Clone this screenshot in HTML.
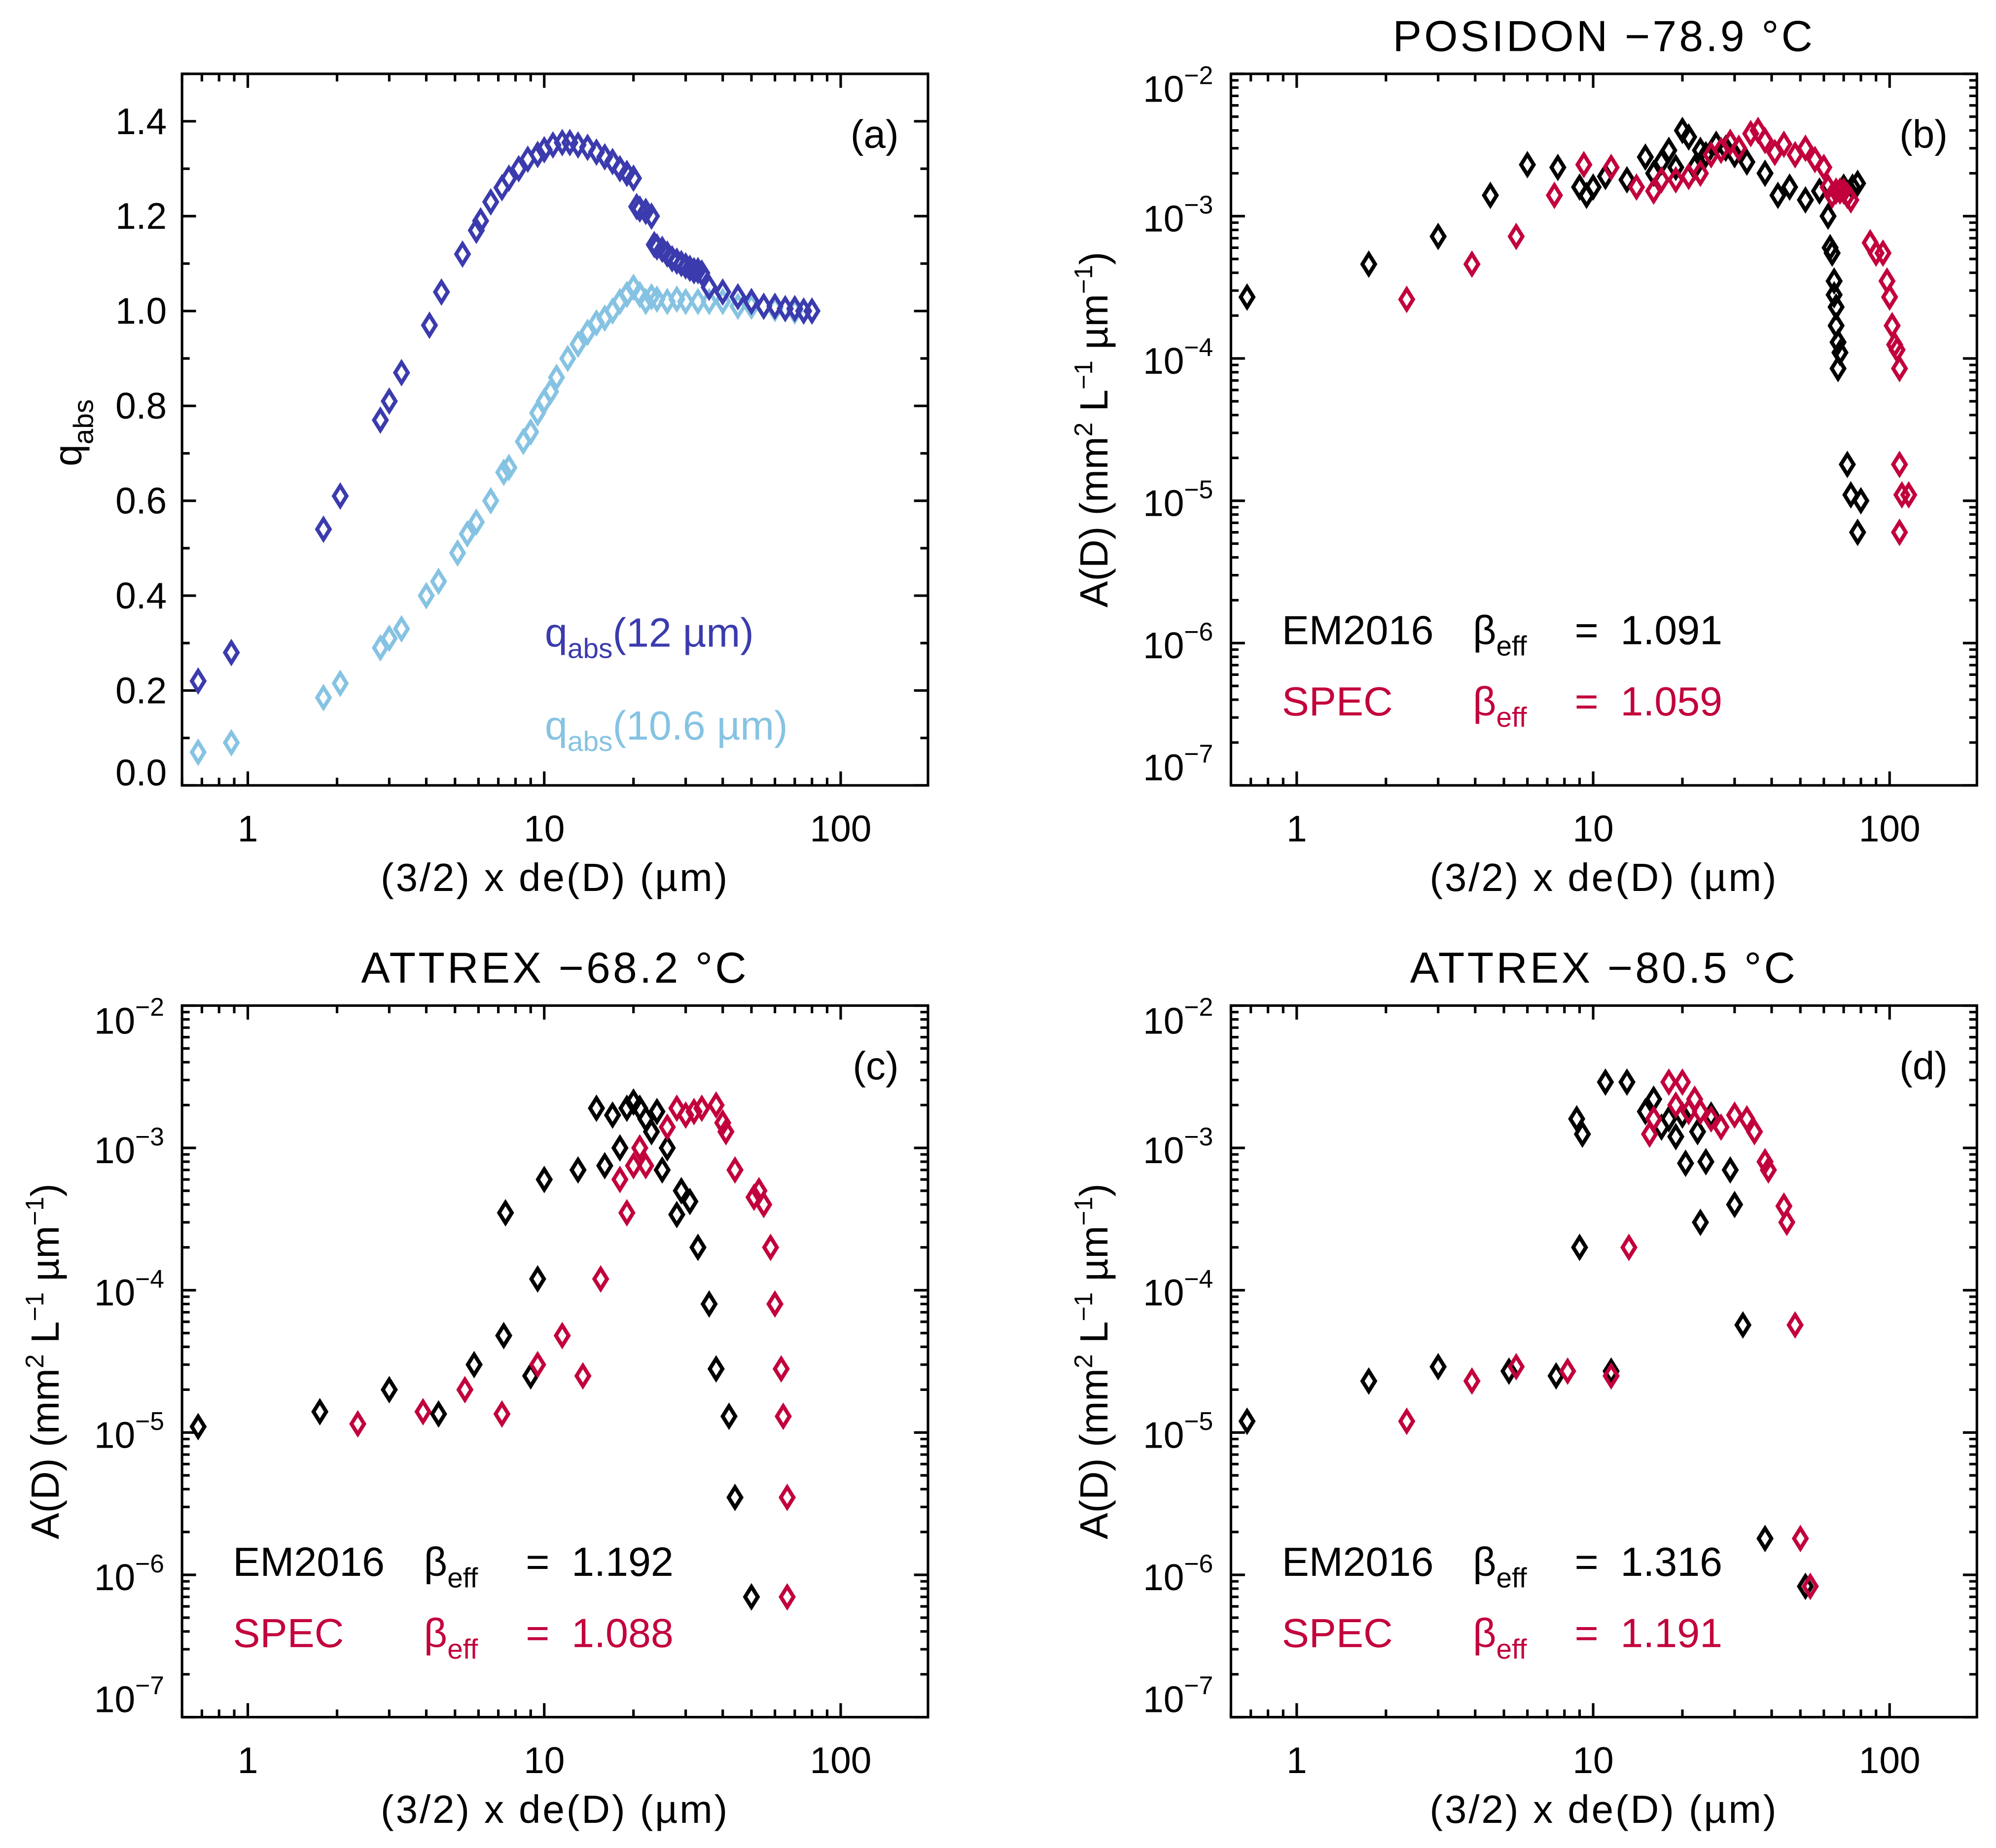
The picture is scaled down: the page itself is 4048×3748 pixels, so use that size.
<!DOCTYPE html>
<html><head><meta charset="utf-8"><style>
html,body{margin:0;padding:0;background:#fff}
svg{display:block}
text{font-family:"Liberation Sans",sans-serif;fill:#000}
</style></head><body>
<svg id="fig" xmlns="http://www.w3.org/2000/svg" width="4048" height="3748" viewBox="0 0 1568 1451.8"></svg>
<script>
// ---- data ----
const aX12=[0.68,0.88,1.8,2.05,2.8,3.0,3.3,4.1,4.5,5.3,5.9,6.1,6.6,7.2,7.6,8.2,8.8,9.5,10,10.7,11.5,12.2,13,14,15,16,17,18,19,20,20.5,21,22,23,23.5,24,25,26,27,28,29,30,31,32,33,34,36,40,45,50,55,60,65,70,75,80];
const aY12=[0.22,0.28,0.54,0.61,0.77,0.81,0.87,0.97,1.04,1.12,1.17,1.19,1.23,1.26,1.28,1.30,1.32,1.33,1.34,1.35,1.355,1.355,1.35,1.345,1.335,1.325,1.315,1.30,1.29,1.28,1.22,1.215,1.21,1.20,1.14,1.135,1.13,1.12,1.11,1.105,1.10,1.095,1.09,1.085,1.085,1.08,1.05,1.04,1.03,1.02,1.01,1.01,1.005,1.005,1.0,1.0];
const aX106=[0.68,0.88,1.8,2.05,2.8,3.0,3.3,4.0,4.4,5.1,5.5,5.9,6.6,7.3,7.6,8.5,9.0,9.5,10,10.5,11,12,13,14,15,16,17,18,19,20,21,22,23,24,26,28,30,33,36,40,45,50,55,60,65,70,75,80];
const aY106=[0.07,0.09,0.185,0.215,0.29,0.31,0.33,0.40,0.43,0.49,0.53,0.555,0.60,0.66,0.67,0.725,0.745,0.785,0.81,0.83,0.86,0.90,0.93,0.955,0.975,0.985,1.0,1.02,1.035,1.05,1.035,1.02,1.03,1.025,1.02,1.025,1.02,1.02,1.02,1.02,1.01,1.01,1.01,1.005,1.005,1.0,1.0,1.0];
const bXem=[0.68,1.75,3.0,4.5,6.0,7.6,9.0,9.5,10,11,13,15,16,17,18,19,20,21,22,23,24,26,28,30,33,38,42,46,52,58,62,63,64,65,65,66,67,68,67,70,72,75,78,72,74,80,78,66];
const bYem=[2.7e-4,4.6e-4,7.2e-4,1.4e-3,2.3e-3,2.2e-3,1.6e-3,1.4e-3,1.6e-3,1.9e-3,1.8e-3,2.6e-3,2.0e-3,2.4e-3,2.9e-3,2.2e-3,4.0e-3,3.6e-3,2.2e-3,2.9e-3,2.7e-3,3.2e-3,3.0e-3,2.7e-3,2.4e-3,2.0e-3,1.4e-3,1.6e-3,1.3e-3,1.5e-3,1.0e-3,6e-4,5.5e-4,3.5e-4,2.8e-4,1.7e-4,1.3e-4,1.1e-4,8.5e-5,1.6e-3,1.4e-3,1.6e-3,1.7e-3,1.8e-5,1.1e-5,1.0e-5,6e-6,2.3e-4];
const bXsp=[2.35,3.9,5.5,7.4,9.3,11.5,14,16,17,19,21,23,25,27,29,31,34,36,38,41,44,48,52,56,60,62,64,66,68,70,72,74,86,90,95,98,100,102,104,106,108,108,110,116,108];
const bYsp=[2.6e-4,4.6e-4,7.2e-4,1.4e-3,2.3e-3,2.2e-3,1.6e-3,1.5e-3,1.8e-3,1.8e-3,1.9e-3,2.0e-3,2.7e-3,2.9e-3,3.3e-3,3.0e-3,3.8e-3,4.0e-3,3.4e-3,2.8e-3,3.2e-3,2.7e-3,3.0e-3,2.5e-3,2.2e-3,1.6e-3,1.4e-3,1.5e-3,1.5e-3,1.5e-3,1.4e-3,1.3e-3,6.5e-4,5.5e-4,5.5e-4,3.5e-4,2.7e-4,1.7e-4,1.25e-4,1.15e-4,8.5e-5,1.8e-5,1.1e-5,1.1e-5,6e-6];
const cXem=[0.68,1.75,3.0,4.4,5.8,7.3,7.4,9.0,9.5,10,13,15,16,17,18,19,20,21,22,23,24,25,26,28,29,31,33,36,38,42,44,50];
const cYem=[1.1e-5,1.4e-5,2.0e-5,1.35e-5,3.0e-5,4.8e-5,3.5e-4,2.5e-5,1.2e-4,6e-4,7e-4,1.9e-3,7.5e-4,1.7e-3,1.0e-3,1.9e-3,2.1e-3,1.9e-3,1.6e-3,1.3e-3,1.8e-3,7e-4,1.0e-3,3.4e-4,5e-4,4.2e-4,2e-4,8e-5,2.8e-5,1.3e-5,3.5e-6,7e-7];
const cXsp=[2.35,3.9,5.4,7.2,9.5,11.5,13.5,15.5,18,19,20,21,22,26,28,30,32,34,38,40,41,44,51,53,55,58,60,63,64,66,66];
const cYsp=[1.15e-5,1.4e-5,2.0e-5,1.35e-5,3.0e-5,4.8e-5,2.5e-5,1.2e-4,6e-4,3.5e-4,7.5e-4,1.0e-3,7.5e-4,1.4e-3,1.9e-3,1.7e-3,1.8e-3,1.9e-3,2.0e-3,1.5e-3,1.3e-3,7e-4,4.5e-4,5e-4,4e-4,2e-4,8e-5,2.8e-5,1.3e-5,3.5e-6,7e-7];
const dXem=[0.68,1.75,3.0,5.2,7.5,8.8,9.2,9.0,11,11.5,13,15,16,17,18,19,20,20.5,22.5,23,24,25,29,30,32,38,52];
const dYem=[1.2e-5,2.3e-5,2.9e-5,2.7e-5,2.5e-5,1.6e-3,1.25e-3,2.0e-4,2.9e-3,2.7e-5,2.9e-3,1.8e-3,2.2e-3,1.4e-3,1.6e-3,1.2e-3,1.7e-3,7.8e-4,1.3e-3,3.0e-4,8e-4,1.7e-3,7e-4,4e-4,5.7e-5,1.8e-6,8.3e-7];
const dXsp=[2.35,3.9,5.5,8.2,11.5,13.2,15.5,16,18,19,20,21,22,23,25,27,30,33,35,38,39,44,45,48,50,54];
const dYsp=[1.2e-5,2.3e-5,2.9e-5,2.7e-5,2.5e-5,2.0e-4,1.25e-3,1.6e-3,2.9e-3,2.0e-3,2.9e-3,1.8e-3,2.2e-3,1.8e-3,1.6e-3,1.4e-3,1.7e-3,1.6e-3,1.3e-3,8e-4,7e-4,3.9e-4,3.0e-4,5.7e-5,1.8e-6,8.3e-7];
const xTickLabels=["1","10","100"];
const aYTickLabels=["0.0","0.2","0.4","0.6","0.8","1.0","1.2","1.4"];
const logYExps=[-7,-6,-5,-4,-3,-2];

const NS="http://www.w3.org/2000/svg";
const svg=document.getElementById('fig');
function mk(tag,attrs,parent){const e=document.createElementNS(NS,tag);for(const k in attrs)e.setAttribute(k,attrs[k]);(parent||svg).appendChild(e);return e;}
const XMIN=0.6,XMAX=197;
function makePanel(name,L,T,logY,ymin,ymax){
  const W=586,H=559;
  const g=mk('g',{});
  
  
  const sx=v=>L+(Math.log10(v)-Math.log10(XMIN))/(Math.log10(XMAX)-Math.log10(XMIN))*W;
  const sy=logY?(v=>T+H-(Math.log10(v)-Math.log10(ymin))/(Math.log10(ymax)-Math.log10(ymin))*H):(v=>T+H-(v-ymin)/(ymax-ymin)*H);
  const frame=mk('rect',{x:L,y:T,width:W,height:H,fill:'none',stroke:'#000','stroke-width':2},g);
  
  
  let d='';
  for(let dec=0.1;dec<=100;dec*=10){for(let m=1;m<10;m++){const v=dec*m;if(v<XMIN||v>XMAX)continue;const x=sx(v);const len=m===1?11:6;d+=`M${x},${T+H}v${-len}M${x},${T}v${len}`;}}
  if(logY){for(let e=-7;e<-2;e++){for(let m=1;m<10;m++){const v=m*Math.pow(10,e);const y=sy(v);const len=m===1?11:6;d+=`M${L},${y}h${len}M${L+W},${y}h${-len}`;}}
    const y=sy(1e-2);d+=`M${L},${y}h11M${L+W},${y}h-11`;}
  else{for(let i=0;i<=15;i++){const y=sy(i*0.1);const len=i%2===0?11:6;d+=`M${L},${y}h${len}M${L+W},${y}h${-len}`;}}
  const ticks=mk('path',{d:d,stroke:'#000','stroke-width':2,fill:'none'},g);
  
  
  xTickLabels.forEach(s=>{const t=mk('text',{x:sx(parseFloat(s)),y:T+H+44,'font-size':29,'text-anchor':'middle'},g);t.textContent=s;
    
    });
  if(logY){logYExps.forEach(e=>{const yy=Math.min(Math.max(sy(Math.pow(10,e))+12,T+22),T+H-4);const t=mk('text',{x:L-14,y:yy,'font-size':29,'text-anchor':'end'},g);
      t.innerHTML=`10<tspan dy="-14" font-size="20">${e<0?'−':''}${Math.abs(e)}</tspan>`;
      
      });}
  else{aYTickLabels.forEach(s=>{const v=parseFloat(s);const t=mk('text',{x:L-12,y:Math.min(sy(v)+10,T+H),'font-size':29,'text-anchor':'end'},g);t.textContent=s;
      
      });}
  const xl=mk('text',{x:L+W/2,y:T+H+83,'font-size':31,'text-anchor':'middle','letter-spacing':1.5},g);
  xl.textContent='(3/2) x de(D) (µm)';
  
  
  return {g,sx,sy,L,T,W,H};
}
function series(p,xs,ys,color,name){
  const g=mk('g',{},p.g);
  
  
  xs.forEach((v,i)=>{const x=p.sx(v),y=p.sy(ys[i]);
    const m=mk('path',{d:`M${x},${y-8}L${x+5},${y}L${x},${y+8}L${x-5},${y}Z`,fill:'none',stroke:color,'stroke-width':3},g);
    
    });
}
function txt(parent,x,y,size,html,color,name,anchor){
  const t=mk('text',{x:x,y:y,'font-size':size,'text-anchor':anchor||'start'},parent);
  t.innerHTML=html; if(color)t.setAttribute('style','fill:'+color);
  
  
  return t;
}
function logYTitle(p){const t=txt(p.g,0,0,31,'A(D) (mm<tspan dy="-12" font-size="20">2</tspan><tspan dy="12"> L</tspan><tspan dy="-12" font-size="20">−1</tspan><tspan dy="12"> µm</tspan><tspan dy="-12" font-size="20">−1</tspan><tspan dy="12">)</tspan>',null,'y-axis-title','middle');
  t.setAttribute('transform',`translate(${p.L-97},${p.T+p.H/2}) rotate(-90)`);}
const RED='#c2003c',DB='#3b3bae',LB='#86c3e3';
function legend(p,em,sp){
  txt(p.g,p.L+40,p.T+448,32,'EM2016',null,'legend-em2016-label');
  txt(p.g,p.L+190,p.T+448,32,'β<tspan dy="9" font-size="22">eff</tspan><tspan dy="-9" x="'+(p.L+270)+'">=</tspan><tspan x="'+(p.L+306)+'">'+em+'</tspan>',null,'legend-em2016-beta');
  txt(p.g,p.L+40,p.T+504,32,'SPEC',RED,'legend-spec-label');
  txt(p.g,p.L+190,p.T+504,32,'β<tspan dy="9" font-size="22">eff</tspan><tspan dy="-9" x="'+(p.L+270)+'">=</tspan><tspan x="'+(p.L+306)+'">'+sp+'</tspan>',RED,'legend-spec-beta');
}
// panel a
const pa=makePanel('panel-a',143,58,false,0,1.5);
series(pa,aX106,aY106,LB,'series-qabs-10.6um');
series(pa,aX12,aY12,DB,'series-qabs-12um');
const ya=txt(pa.g,0,0,31,'q<tspan dy="9" font-size="22">abs</tspan>',null,'y-axis-title','middle');
ya.setAttribute('transform',`translate(64,340) rotate(-90)`);
txt(pa.g,706,116,31,'(a)',null,'panel-label','end');
txt(pa.g,428,508,32,'q<tspan dy="9" font-size="22">abs</tspan><tspan dy="-9">(12 µm)</tspan>',DB,'legend-qabs-12um');
txt(pa.g,428,581,32,'q<tspan dy="9" font-size="22">abs</tspan><tspan dy="-9">(10.6 µm)</tspan>',LB,'legend-qabs-10.6um');
// panel b
const pb=makePanel('panel-b',967,58,true,1e-7,1e-2);
series(pb,bXem,bYem,'#000','series-em2016');
series(pb,bXsp,bYsp,RED,'series-spec');
logYTitle(pb);
txt(pb.g,1260,40,34,'POSIDON  −78.9 °C',null,'panel-title','middle').setAttribute('letter-spacing','2');
txt(pb.g,1530,116,31,'(b)',null,'panel-label','end');
legend(pb,'1.091','1.059');
// panel c
const pc=makePanel('panel-c',143,790,true,1e-7,1e-2);
series(pc,cXem,cYem,'#000','series-em2016');
series(pc,cXsp,cYsp,RED,'series-spec');
logYTitle(pc);
txt(pc.g,436,772,34,'ATTREX  −68.2 °C',null,'panel-title','middle').setAttribute('letter-spacing','2');
txt(pc.g,706,848,31,'(c)',null,'panel-label','end');
legend(pc,'1.192','1.088');
// panel d
const pd=makePanel('panel-d',967,790,true,1e-7,1e-2);
series(pd,dXem,dYem,'#000','series-em2016');
series(pd,dXsp,dYsp,RED,'series-spec');
logYTitle(pd);
txt(pd.g,1260,772,34,'ATTREX  −80.5 °C',null,'panel-title','middle').setAttribute('letter-spacing','2');
txt(pd.g,1530,848,31,'(d)',null,'panel-label','end');
legend(pd,'1.316','1.191');
</script>
</body></html>
